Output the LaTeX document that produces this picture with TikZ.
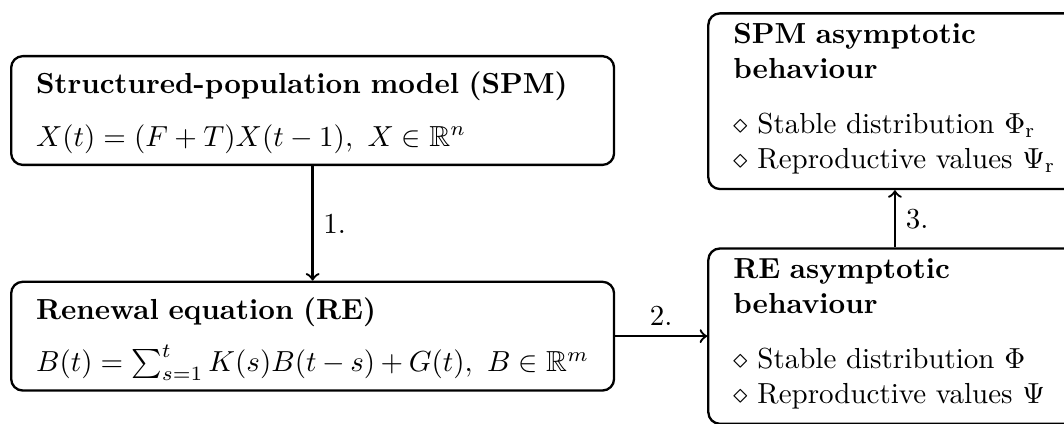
\documentclass[tikz,border=0pt]{standalone}
\usepackage{amsmath,amssymb}
\usetikzlibrary{positioning}
\tikzset{
  model/.style={draw, thick, rounded corners=4pt, align=left, inner xsep=8.6pt, inner ysep=3.5pt},
  widebox/.style={model, text width=190.7pt},
  narrowbox/.style={model, text width=111.5pt},
  link/.style={->, thick}
}

\begin{document}
\begin{tikzpicture}
				\useasboundingbox (0,0) rectangle (366.9pt,-145.9pt);
				% models
				\node [widebox, anchor=north west] (spm) at (3.45pt,-18.97pt)
				{\rule{0pt}{9.5pt}\textbf{Structured-population model (SPM)}\\[6pt]
				$X(t)=(F+T)X(t-1),\ X\in\mathbb{R}^n$\rule[-3pt]{0pt}{3pt}};
				\node [widebox, below=39.5pt of spm] (re)
				{\rule{0pt}{9.5pt}\textbf{Renewal equation (RE)}\\[6pt]
				$B(t)=\sum_{s=1}^{t}K(s)B(t-s)+G(t),\ B\in\mathbb{R}^m$\rule[-3pt]{0pt}{3pt}};
				% asymptotics
				\node [narrowbox, right=31.7pt of re] (reasym)
				{\textbf{RE asymptotic}\\\textbf{behaviour}\\[7pt]
				$\diamond$ Stable distribution $\Phi$\\
				$\diamond$ Reproductive values $\Psi$\strut};
				\node [narrowbox, above=19.7pt of reasym] (spmasym)
				{\textbf{SPM asymptotic}\\\textbf{behaviour}\\[7pt]
				$\diamond$ Stable distribution $\Phi_{\mathrm{r}}$\\
				$\diamond$ Reproductive values $\Psi_{\mathrm{r}}$\strut};
				
				\draw [link] (spm.south) -- node [right] {1.} (re.north);
				\draw [link] (re.east) -- node [above] {2.} (reasym.west);
				\draw [link] (reasym.north) -- node [right] {3.} (spmasym.south);
\end{tikzpicture}
\end{document}
